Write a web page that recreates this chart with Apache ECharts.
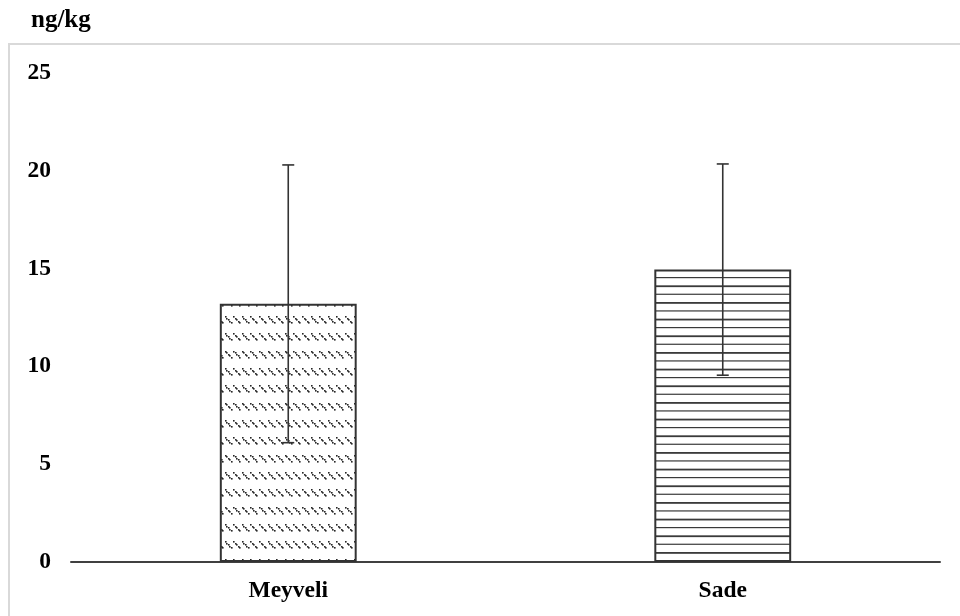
<!DOCTYPE html>
<html>
<head>
<meta charset="utf-8">
<script src="https://cdn.jsdelivr.net/npm/echarts@6/dist/echarts.min.js"></script>
<style>
  html, body { margin: 0; padding: 0; background: #fff; }
  #chart { width: 960px; height: 616px; }
</style>
</head>
<body>
<div id="chart"></div>
<script>
// Mean concentration (ng/kg) per sample type, with standard deviation
const categories = ['Meyveli', 'Sade'];
const means = [13.2, 14.95];
const stdDevs = [7.1, 5.4];
const yTicks = [0, 5, 10, 15, 20, 25];

const FONT = '"Liberation Serif", "Times New Roman", serif';
const INK = '#333333';

// Fill pattern: rows of short dotted diagonal dashes
function dashPattern() {
  const c = document.createElement('canvas');
  c.width = 43; c.height = 52;
  const g = c.getContext('2d');
  g.fillStyle = '#ffffff';
  g.fillRect(0, 0, c.width, c.height);
  g.fillStyle = '#262626';
  const period = 8.6, rowGap = 52 / 3;
  for (let r = 0; r < 3; r++) {
    const y0 = 4 + r * rowGap;
    for (let k = 0; k < 5; k++) {
      const x0 = 1 + k * period;
      for (let i = 0; i < 5; i++) {
        g.fillRect(Math.round(x0 + i * 1.5), Math.round(y0 + i * 1.5), 1.6, 1.6);
      }
    }
  }
  return c;
}

// Fill pattern: horizontal stripes with alternating weight
function stripePattern() {
  const c = document.createElement('canvas');
  c.width = 10; c.height = 50;
  const g = c.getContext('2d');
  g.fillStyle = '#ffffff';
  g.fillRect(0, 0, c.width, c.height);
  g.fillStyle = '#3a3a3a';
  const gap = 50 / 6;
  for (let k = 0; k < 6; k++) {
    g.fillRect(0, 2 + k * gap, c.width, k % 2 ? 1.2 : 1.8);
  }
  return c;
}

const fills = [
  { image: dashPattern(), repeat: 'repeat' },
  { image: stripePattern(), repeat: 'repeat' }
];

const barData = means.map((v, i) => ({
  value: v,
  itemStyle: { color: fills[i] }
}));
const errData = means.map((v, i) => [i, v - stdDevs[i], v + stdDevs[i]]);

const chart = echarts.init(document.getElementById('chart'), null, { renderer: 'canvas' });
chart.setOption({
  animation: false,
  backgroundColor: '#ffffff',
  graphic: [
    {
      type: 'rect',
      shape: { x: 9, y: 44, width: 1000, height: 700 },
      style: { fill: 'none', stroke: '#d9d9d9', lineWidth: 2 },
      silent: true
    }
  ],
  title: {
    text: 'ng/kg',
    left: 26,
    top: 3,
    textStyle: { fontFamily: FONT, fontWeight: 'bold', fontSize: 25, color: '#000' }
  },
  grid: { left: 71, right: 20, top: 73, bottom: 54, containLabel: false },
  xAxis: {
    type: 'category',
    data: categories,
    axisLine: { lineStyle: { color: '#404040', width: 2 } },
    axisTick: { show: false },
    axisLabel: {
      margin: 17,
      fontFamily: FONT, fontWeight: 'bold', fontSize: 23.5, color: '#000'
    }
  },
  yAxis: {
    type: 'value',
    min: yTicks[0],
    max: yTicks[yTicks.length - 1],
    interval: yTicks[1] - yTicks[0],
    axisLine: { show: false },
    axisTick: { show: false },
    splitLine: { show: false },
    axisLabel: {
      margin: 20,
      fontFamily: FONT, fontWeight: 'bold', fontSize: 23.5, color: '#000'
    }
  },
  series: [
    {
      type: 'bar',
      data: barData,
      barWidth: '31.5%',
      itemStyle: { borderColor: INK, borderWidth: 2 }
    },
    {
      type: 'custom',
      data: errData,
      z: 10,
      renderItem: function (params, api) {
        const idx = api.value(0);
        const lo = api.coord([idx, api.value(1)]);
        const hi = api.coord([idx, api.value(2)]);
        const cap = 6;
        const style = { stroke: INK, lineWidth: 1.6 };
        return {
          type: 'group',
          children: [
            { type: 'line', shape: { x1: hi[0], y1: hi[1], x2: lo[0], y2: lo[1] }, style: style },
            { type: 'line', shape: { x1: hi[0] - cap, y1: hi[1], x2: hi[0] + cap, y2: hi[1] }, style: style },
            { type: 'line', shape: { x1: lo[0] - cap, y1: lo[1], x2: lo[0] + cap, y2: lo[1] }, style: style }
          ]
        };
      }
    }
  ]
});
</script>
</body>
</html>
